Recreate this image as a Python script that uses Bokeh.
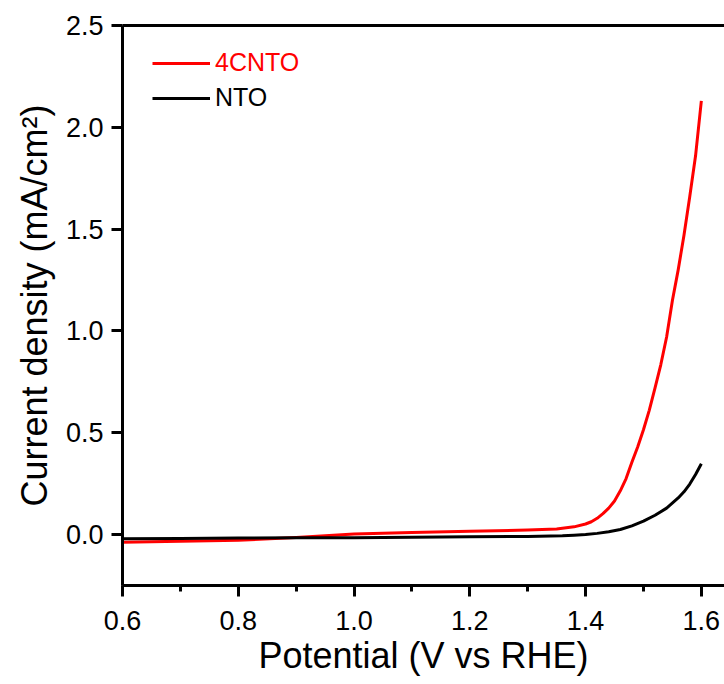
from bokeh.plotting import figure
from bokeh.models import (Range1d, SingleIntervalTicker, PrintfTickFormatter,
                          LinearAxis, Legend, LegendItem)
from bokeh.embed import file_html
from bokeh.resources import INLINE

# 4CNTO (red)
x_4cnto = [0.6, 0.7, 0.8, 0.9, 1.0, 1.1, 1.2, 1.3, 1.35, 1.38, 1.40, 1.41,
           1.42, 1.43, 1.44, 1.45, 1.46, 1.47, 1.48, 1.49, 1.50, 1.51, 1.52,
           1.53, 1.54, 1.55, 1.56, 1.57, 1.58, 1.59, 1.60]
y_4cnto = [-0.038, -0.033, -0.028, -0.014, 0.003, 0.010, 0.016, 0.022, 0.028,
           0.038, 0.052, 0.063, 0.080, 0.103, 0.130, 0.165, 0.215, 0.275,
           0.355, 0.430, 0.515, 0.610, 0.720, 0.835, 0.970, 1.150, 1.300,
           1.470, 1.660, 1.860, 2.130]

# NTO (black)
x_nto = [0.6, 0.7, 0.8, 0.9, 1.0, 1.1, 1.2, 1.3, 1.36, 1.38, 1.40, 1.42, 1.44,
         1.46, 1.48, 1.50, 1.52, 1.54, 1.56, 1.57, 1.58, 1.59, 1.60]
y_nto = [-0.021, -0.019, -0.017, -0.016, -0.015, -0.013, -0.011, -0.009,
         -0.006, -0.003, 0.000, 0.006, 0.014, 0.025, 0.043, 0.066, 0.095,
         0.130, 0.180, 0.210, 0.248, 0.295, 0.348]

FONT = "Liberation Sans"

p = figure(width=724, height=684, output_backend="svg", toolbar_location=None,
           x_range=Range1d(0.6, 1.64), y_range=Range1d(-0.25, 2.5),
           min_border_left=122, min_border_bottom=99, min_border_top=25,
           min_border_right=0)
p.grid.visible = False
p.outline_line_color = None
p.background_fill_color = "white"
p.border_fill_color = "white"

r1 = p.line(x_4cnto, y_4cnto, line_color="#FF0000", line_width=3,
            line_join="round")
r2 = p.line(x_nto, y_nto, line_color="#000000", line_width=3,
            line_join="round")

xa = p.xaxis[0]
xa.ticker = SingleIntervalTicker(interval=0.2, num_minor_ticks=2)
xa.formatter = PrintfTickFormatter(format="%.1f")
xa.axis_label = "Potential (V vs RHE)"
ya = p.yaxis[0]
ya.ticker = SingleIntervalTicker(interval=0.5, num_minor_ticks=0)
ya.formatter = PrintfTickFormatter(format="%.1f")
ya.axis_label = "Current density (mA/cm²)"

for ax in (xa, ya):
    ax.axis_line_width = 3
    ax.axis_line_color = "black"
    ax.major_tick_line_width = 3
    ax.minor_tick_line_width = 3
    ax.major_tick_line_color = "black"
    ax.minor_tick_line_color = "black"
    ax.major_tick_out = 11
    ax.major_tick_in = 0
    ax.minor_tick_out = 6
    ax.minor_tick_in = 0
    ax.major_label_text_font = FONT
    ax.major_label_text_font_size = "27px"
    ax.major_label_text_color = "black"
    ax.axis_label_text_font = FONT
    ax.axis_label_text_font_size = "36px"
    ax.axis_label_text_font_style = "normal"
    ax.axis_label_text_color = "black"
ya.minor_tick_line_color = None
xa.major_label_standoff = 14
xa.axis_label_standoff = 2
ya.major_label_standoff = 8
ya.axis_label_standoff = 8

top = LinearAxis(ticker=SingleIntervalTicker(interval=10),
                 major_tick_line_color=None, minor_tick_line_color=None,
                 major_label_text_font_size="0px", axis_line_width=3,
                 axis_line_color="black", major_tick_out=0, major_label_standoff=0)
p.add_layout(top, "above")

leg1 = Legend(items=[LegendItem(label="4CNTO", renderers=[r1])],
              location=(30, 508), orientation="vertical",
              padding=0, margin=0, spacing=0, label_standoff=5,
              glyph_width=58, glyph_height=20, label_height=20,
              border_line_color=None, background_fill_alpha=0,
              label_text_font=FONT, label_text_font_size="25px",
              label_text_color="#FF0000")
leg2 = Legend(items=[LegendItem(label="NTO", renderers=[r2])],
              location=(30, 473), orientation="vertical",
              padding=0, margin=0, spacing=0, label_standoff=5,
              glyph_width=58, glyph_height=20, label_height=20,
              border_line_color=None, background_fill_alpha=0,
              label_text_font=FONT, label_text_font_size="25px",
              label_text_color="#000000")
p.add_layout(leg1, "center")
p.add_layout(leg2, "center")

open("out.html", "w").write(file_html(p, INLINE))
